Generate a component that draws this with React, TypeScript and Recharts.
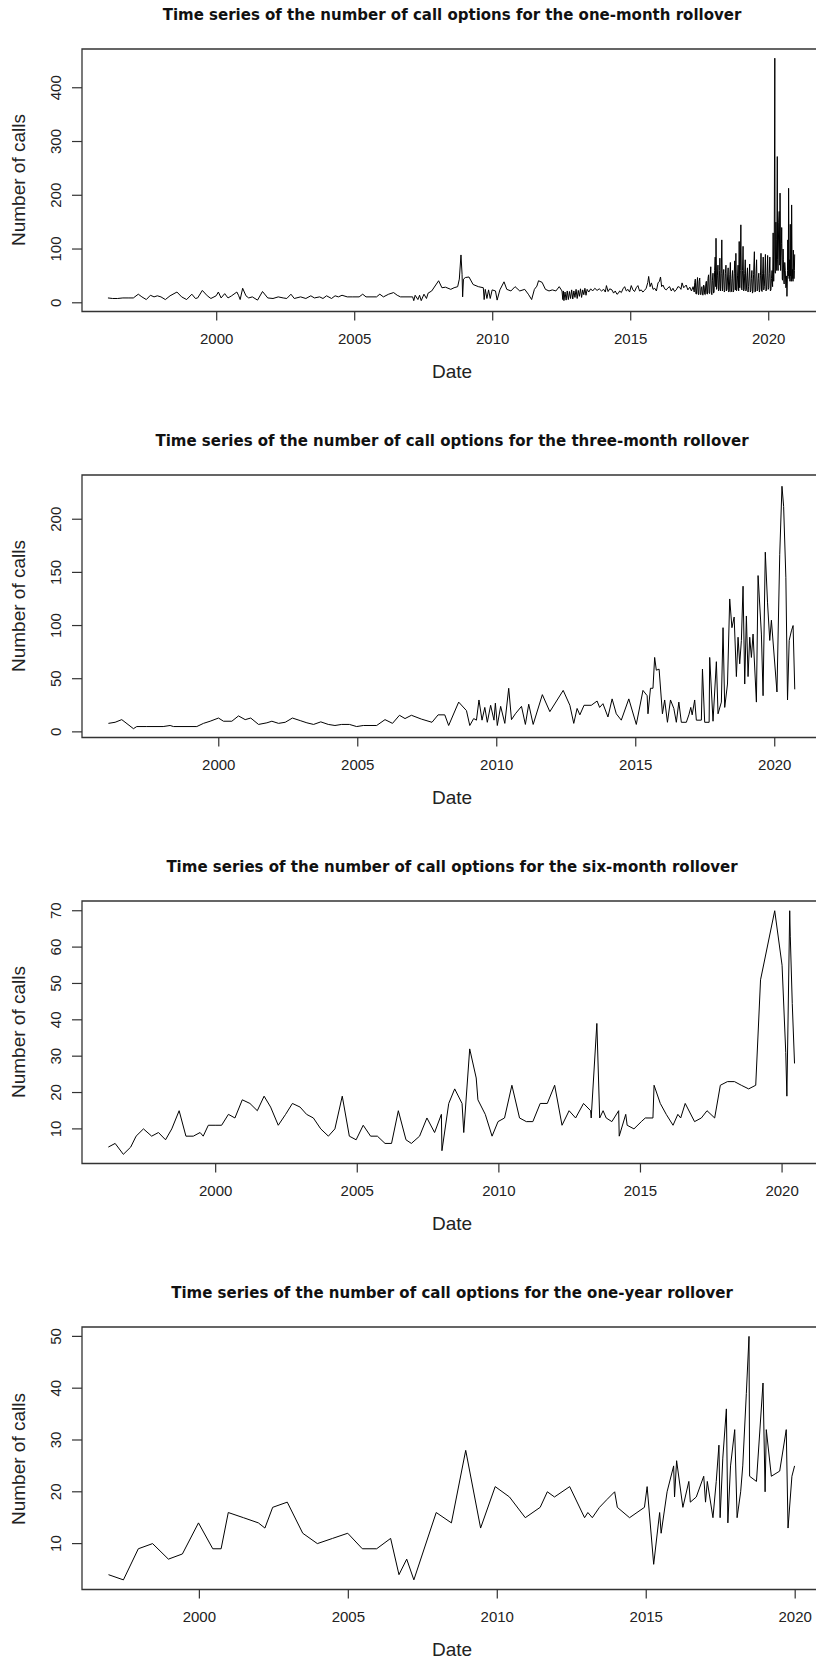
import React from "react"
import { LineChart, Line, XAxis, YAxis, ReferenceArea } from "recharts"

// decimal year, number of calls
const oneMonthCalls: [number, number][] = [
  [1996.06, 9], [1996.23, 8], [1996.41, 8], [1996.6, 9], [1996.79, 9], [1996.98, 9], [1997.16, 16], [1997.29, 11],
  [1997.45, 6], [1997.6, 14], [1997.73, 11], [1997.85, 13], [1997.98, 11], [1998.14, 6], [1998.31, 13], [1998.56, 20],
  [1998.73, 11], [1998.91, 6], [1999.1, 16], [1999.23, 8], [1999.31, 9], [1999.48, 23], [1999.66, 13], [1999.79, 8],
  [1999.98, 13], [2000.06, 20], [2000.16, 9], [2000.29, 17], [2000.41, 9], [2000.54, 13], [2000.73, 20], [2000.79, 14],
  [2000.85, 6], [2000.94, 27], [2001.06, 13], [2001.16, 9], [2001.29, 11], [2001.48, 5], [2001.66, 21], [2001.85, 9],
  [2002.04, 8], [2002.23, 11], [2002.41, 9], [2002.54, 8], [2002.69, 16], [2002.81, 8], [2003.04, 11], [2003.23, 8],
  [2003.41, 13], [2003.54, 9], [2003.73, 11], [2003.85, 8], [2003.98, 13], [2004.16, 8], [2004.29, 13], [2004.41, 11],
  [2004.54, 14], [2004.73, 11], [2004.91, 11], [2005.16, 11], [2005.29, 16], [2005.41, 11], [2005.79, 11], [2005.91, 16],
  [2006.04, 11], [2006.23, 16], [2006.41, 19], [2006.54, 14], [2006.66, 11], [2007.1, 11], [2007.14, 4], [2007.19, 14],
  [2007.29, 6], [2007.35, 14], [2007.41, 4], [2007.51, 16], [2007.6, 8], [2007.66, 18], [2007.79, 22], [2008.04, 41],
  [2008.16, 28], [2008.29, 29], [2008.48, 25], [2008.6, 28], [2008.73, 30], [2008.79, 44], [2008.85, 89], [2008.89, 53],
  [2008.91, 11], [2008.94, 44], [2009.01, 47], [2009.14, 48], [2009.29, 34], [2009.48, 30], [2009.66, 28], [2009.69, 6],
  [2009.73, 25], [2009.79, 8], [2009.85, 24], [2009.91, 8], [2009.98, 24], [2010.1, 22], [2010.16, 5], [2010.26, 24],
  [2010.41, 39], [2010.51, 25], [2010.66, 22], [2010.81, 30], [2010.98, 22], [2011.16, 25], [2011.29, 16], [2011.41, 6],
  [2011.51, 25], [2011.6, 31], [2011.66, 41], [2011.79, 38], [2011.91, 25], [2012.04, 22], [2012.16, 24], [2012.29, 22],
  [2012.41, 30], [2012.51, 22], [2012.54, 6], [2012.56, 22], [2012.58, 4], [2012.62, 20], [2012.66, 5], [2012.7, 22],
  [2012.74, 6], [2012.78, 21], [2012.82, 8], [2012.86, 24], [2012.9, 7], [2012.94, 22], [2012.98, 10], [2013.02, 25],
  [2013.06, 8], [2013.1, 23], [2013.14, 12], [2013.18, 26], [2013.22, 10], [2013.26, 24], [2013.3, 15], [2013.34, 27],
  [2013.38, 14], [2013.42, 25], [2013.48, 20], [2013.55, 26], [2013.62, 22], [2013.7, 27], [2013.78, 23], [2013.86, 26],
  [2013.94, 22], [2014.02, 25], [2014.08, 20], [2014.12, 32], [2014.18, 21], [2014.24, 26], [2014.32, 24], [2014.38, 18],
  [2014.44, 22], [2014.5, 16], [2014.54, 17], [2014.6, 22], [2014.66, 19], [2014.72, 26], [2014.78, 30], [2014.84, 22],
  [2014.9, 25], [2014.96, 20], [2015.02, 32], [2015.08, 24], [2015.14, 21], [2015.2, 28], [2015.26, 32], [2015.32, 22],
  [2015.38, 24], [2015.44, 20], [2015.5, 23], [2015.56, 27], [2015.62, 38], [2015.65, 49], [2015.7, 30], [2015.75, 37],
  [2015.81, 25], [2015.87, 27], [2015.93, 22], [2015.99, 37], [2016.04, 40], [2016.08, 48], [2016.12, 30], [2016.17, 33],
  [2016.23, 26], [2016.29, 24], [2016.35, 28], [2016.41, 30], [2016.47, 22], [2016.53, 27], [2016.59, 21], [2016.65, 24],
  [2016.71, 30], [2016.77, 29], [2016.82, 25], [2016.86, 37], [2016.92, 28], [2017.01, 33], [2017.07, 24], [2017.14, 29],
  [2017.2, 22], [2017.26, 30],
  [2017.3, 20], [2017.32, 38], [2017.34, 44], [2017.36, 17], [2017.38, 16], [2017.4, 35], [2017.42, 47], [2017.44, 18],
  [2017.46, 15], [2017.48, 40], [2017.5, 46], [2017.52, 16], [2017.54, 15], [2017.56, 28], [2017.58, 30], [2017.6, 15],
  [2017.62, 14], [2017.64, 33], [2017.66, 31], [2017.68, 16], [2017.7, 15], [2017.72, 36], [2017.74, 40], [2017.76, 17],
  [2017.78, 16], [2017.8, 45], [2017.82, 52], [2017.84, 18], [2017.86, 17], [2017.88, 48], [2017.9, 67], [2017.92, 20],
  [2017.94, 15], [2017.96, 42], [2017.98, 55], [2018.0, 18], [2018.02, 20], [2018.04, 60], [2018.06, 85], [2018.08, 30],
  [2018.09, 120], [2018.11, 25], [2018.12, 28], [2018.14, 50], [2018.16, 70], [2018.18, 22], [2018.2, 25], [2018.22, 60],
  [2018.23, 83], [2018.25, 22], [2018.26, 27], [2018.28, 55], [2018.3, 117], [2018.32, 22], [2018.33, 24], [2018.35, 50],
  [2018.37, 62], [2018.39, 20], [2018.41, 23], [2018.43, 55], [2018.45, 70], [2018.47, 22], [2018.49, 25], [2018.51, 48],
  [2018.53, 65], [2018.55, 20], [2018.57, 22], [2018.59, 52], [2018.61, 75], [2018.63, 20], [2018.65, 21], [2018.67, 45],
  [2018.69, 60], [2018.71, 20], [2018.73, 22], [2018.75, 55], [2018.77, 78], [2018.79, 24], [2018.81, 92], [2018.83, 22],
  [2018.85, 25], [2018.87, 50], [2018.89, 70], [2018.91, 22], [2018.93, 114], [2018.95, 28], [2018.97, 60], [2018.99, 145],
  [2019.01, 26], [2019.03, 24], [2019.05, 60], [2019.07, 105], [2019.09, 22], [2019.11, 25], [2019.13, 55], [2019.15, 80],
  [2019.17, 22], [2019.19, 24], [2019.21, 50], [2019.23, 65], [2019.25, 20], [2019.27, 30], [2019.29, 48], [2019.31, 72],
  [2019.33, 20], [2019.35, 22], [2019.37, 45], [2019.39, 60], [2019.41, 18], [2019.43, 21], [2019.45, 52], [2019.48, 95],
  [2019.5, 20], [2019.52, 21], [2019.54, 55], [2019.56, 80], [2019.58, 22], [2019.6, 24], [2019.62, 45], [2019.64, 55],
  [2019.66, 20], [2019.68, 25], [2019.7, 50], [2019.72, 92], [2019.74, 22], [2019.76, 21], [2019.78, 55], [2019.8, 85],
  [2019.82, 24], [2019.84, 30], [2019.86, 55], [2019.88, 90], [2019.9, 22], [2019.92, 24], [2019.94, 50], [2019.96, 88],
  [2019.98, 25], [2020.0, 28], [2020.02, 55], [2020.04, 85], [2020.06, 22], [2020.08, 24], [2020.1, 45], [2020.12, 60],
  [2020.14, 30], [2020.16, 130], [2020.18, 40], [2020.2, 100], [2020.22, 455], [2020.23, 60], [2020.24, 55], [2020.26, 150],
  [2020.27, 118], [2020.29, 60], [2020.31, 272], [2020.32, 80], [2020.34, 60], [2020.36, 150], [2020.38, 170], [2020.4, 70],
  [2020.41, 204], [2020.43, 60], [2020.44, 85], [2020.46, 110], [2020.47, 140], [2020.49, 45], [2020.5, 42], [2020.52, 100],
  [2020.53, 80], [2020.55, 38], [2020.56, 35], [2020.58, 75], [2020.6, 60], [2020.62, 28], [2020.63, 30], [2020.65, 50],
  [2020.66, 12], [2020.68, 60], [2020.69, 117], [2020.71, 50], [2020.72, 213], [2020.74, 45], [2020.75, 80], [2020.77, 40],
  [2020.78, 146], [2020.79, 50], [2020.8, 60], [2020.82, 40], [2020.83, 182], [2020.85, 45], [2020.86, 62], [2020.88, 40],
  [2020.89, 98], [2020.91, 45], [2020.92, 45], [2020.93, 60], [2020.94, 90],
]

const threeMonthCalls: [number, number][] = [
  [1996.03, 8], [1996.27, 9], [1996.51, 11.5], [1996.93, 3], [1997.05, 5], [1997.41, 5], [1998.0, 5], [1998.25, 6],
  [1998.37, 5], [1999.21, 5], [1999.45, 8], [1999.69, 10], [1999.99, 13], [2000.17, 10], [2000.47, 10], [2000.71, 15],
  [2000.95, 11.5], [2001.15, 13], [2001.43, 7], [2001.73, 8.5], [2001.91, 10], [2002.15, 8], [2002.39, 9], [2002.65, 13],
  [2002.93, 10.6], [2003.17, 8.5], [2003.41, 7], [2003.67, 9.4], [2003.94, 7], [2004.18, 6], [2004.42, 7], [2004.7, 7],
  [2004.96, 5], [2005.2, 6], [2005.68, 6], [2005.98, 11.5], [2006.25, 8], [2006.5, 15.6], [2006.7, 12.5], [2006.93, 15.6],
  [2007.29, 12], [2007.67, 9], [2007.89, 16], [2008.13, 16], [2008.27, 6], [2008.63, 28], [2008.91, 20], [2009.03, 6],
  [2009.17, 12.5], [2009.27, 11], [2009.36, 30], [2009.47, 11], [2009.57, 23], [2009.66, 9], [2009.78, 25], [2009.9, 11],
  [2009.95, 27], [2010.02, 6], [2010.14, 24], [2010.29, 8], [2010.43, 41], [2010.53, 11.5], [2010.67, 17], [2010.89, 24],
  [2011.03, 7], [2011.15, 26], [2011.31, 7], [2011.64, 35], [2011.91, 19], [2012.39, 39], [2012.63, 25], [2012.77, 8],
  [2012.89, 22], [2012.99, 16], [2013.14, 25], [2013.4, 25], [2013.61, 29], [2013.7, 23], [2013.82, 26.5], [2014.0, 14],
  [2014.15, 31], [2014.3, 17], [2014.48, 11], [2014.75, 31], [2015.02, 7], [2015.26, 39], [2015.41, 34], [2015.44, 17],
  [2015.53, 41], [2015.62, 41], [2015.68, 70], [2015.74, 58], [2015.84, 59], [2015.96, 17], [2016.04, 30], [2016.14, 9],
  [2016.25, 30], [2016.37, 22], [2016.46, 9], [2016.55, 28], [2016.64, 9], [2016.82, 9], [2016.91, 16], [2016.98, 23],
  [2017.03, 16], [2017.12, 30], [2017.18, 11], [2017.36, 11], [2017.4, 59], [2017.48, 9], [2017.64, 9], [2017.66, 70],
  [2017.78, 10], [2017.9, 66], [2017.96, 17], [2018.08, 28], [2018.14, 98], [2018.2, 23], [2018.3, 45], [2018.38, 125],
  [2018.46, 98], [2018.54, 108], [2018.62, 52], [2018.68, 89], [2018.74, 64], [2018.8, 86], [2018.86, 137], [2018.92, 45],
  [2018.98, 109], [2019.04, 52], [2019.1, 89], [2019.16, 70], [2019.22, 92], [2019.34, 28], [2019.4, 147], [2019.52, 92],
  [2019.58, 34], [2019.66, 169], [2019.74, 122], [2019.82, 86], [2019.88, 105], [2020.08, 37.5], [2020.18, 167], [2020.26, 231],
  [2020.32, 212], [2020.4, 145], [2020.46, 30], [2020.52, 86], [2020.6, 95], [2020.66, 100], [2020.72, 40],
]

const sixMonthCalls: [number, number][] = [
  [1996.21, 5], [1996.45, 6], [1996.74, 3], [1997.0, 5], [1997.19, 8], [1997.45, 10], [1997.74, 8], [1997.98, 9],
  [1998.23, 7], [1998.45, 10], [1998.71, 15], [1998.95, 8], [1999.21, 8], [1999.45, 9], [1999.56, 8], [1999.74, 11],
  [1999.98, 11], [2000.21, 11], [2000.45, 14], [2000.68, 13], [2000.94, 18], [2001.21, 17], [2001.47, 15], [2001.71, 19],
  [2001.94, 16], [2002.21, 11], [2002.47, 14], [2002.71, 17], [2002.98, 16], [2003.21, 14], [2003.45, 13], [2003.71, 10],
  [2003.98, 8], [2004.21, 10], [2004.47, 19], [2004.72, 8], [2004.96, 7], [2005.21, 11], [2005.47, 8], [2005.71, 8],
  [2005.98, 6], [2006.21, 6], [2006.45, 15], [2006.72, 7], [2006.91, 6], [2007.2, 8], [2007.46, 13], [2007.73, 9],
  [2007.97, 14], [2007.99, 4], [2008.23, 17], [2008.44, 21], [2008.7, 17], [2008.76, 9], [2008.97, 32], [2009.2, 24],
  [2009.26, 18], [2009.52, 14], [2009.76, 8], [2009.97, 12], [2010.2, 13], [2010.46, 22], [2010.73, 13], [2010.97, 12],
  [2011.2, 12], [2011.46, 17], [2011.71, 17], [2011.97, 22], [2012.23, 11], [2012.48, 15], [2012.71, 13], [2012.99, 17],
  [2013.24, 15], [2013.26, 13], [2013.46, 39], [2013.56, 13], [2013.68, 15], [2013.79, 13], [2013.99, 12], [2014.23, 15],
  [2014.25, 8], [2014.48, 14], [2014.53, 11], [2014.77, 10], [2015.03, 12], [2015.17, 13], [2015.44, 13], [2015.48, 22],
  [2015.7, 17], [2015.91, 14], [2016.15, 11], [2016.32, 14], [2016.42, 13], [2016.58, 17], [2016.91, 12], [2017.15, 13],
  [2017.35, 15], [2017.62, 13], [2017.82, 22], [2018.07, 23], [2018.32, 23], [2018.56, 22], [2018.82, 21], [2019.07, 22],
  [2019.24, 51], [2019.74, 70], [2020.0, 55], [2020.13, 31], [2020.17, 19], [2020.27, 70], [2020.29, 63], [2020.36, 44.5],
  [2020.44, 28],
]

const oneYearCalls: [number, number][] = [
  [1996.95, 4], [1997.45, 3], [1997.95, 9], [1998.43, 10], [1998.96, 7], [1999.43, 8], [1999.97, 14], [2000.45, 9],
  [2000.73, 9], [2000.97, 16], [2001.48, 15], [2001.98, 14], [2002.2, 13], [2002.46, 17], [2002.95, 18], [2003.47, 12],
  [2003.96, 10], [2004.47, 11], [2004.98, 12], [2005.47, 9], [2005.95, 9], [2006.42, 11], [2006.7, 4], [2006.96, 7],
  [2007.2, 3], [2007.95, 16], [2008.46, 14], [2008.94, 28], [2009.44, 13], [2009.93, 21], [2010.41, 19], [2010.94, 15],
  [2011.44, 17], [2011.68, 20], [2011.92, 19], [2012.43, 21], [2012.93, 15], [2013.04, 16], [2013.19, 15], [2013.43, 17],
  [2013.68, 18.5], [2013.94, 20], [2014.03, 17], [2014.44, 15], [2014.94, 17], [2015.03, 21], [2015.25, 6], [2015.45, 16],
  [2015.5, 12], [2015.7, 20], [2015.92, 25], [2015.95, 19], [2016.02, 26], [2016.23, 17], [2016.43, 22], [2016.48, 18],
  [2016.68, 19], [2016.93, 23], [2016.99, 18], [2017.05, 22], [2017.24, 15], [2017.35, 22], [2017.44, 29], [2017.48, 15],
  [2017.57, 26.5], [2017.69, 36], [2017.74, 14], [2017.83, 25], [2017.97, 32], [2018.05, 15], [2018.17, 20], [2018.24, 25],
  [2018.36, 39], [2018.45, 50], [2018.47, 23], [2018.7, 22], [2018.92, 41], [2018.99, 20], [2019.03, 32], [2019.2, 23],
  [2019.48, 24], [2019.7, 32], [2019.76, 13], [2019.89, 23], [2019.98, 25],
]

const yearTicks = [2000, 2005, 2010, 2015, 2020]
const oneMonthTicks = [0, 100, 200, 300, 400]
const threeMonthTicks = [0, 50, 100, 150, 200]
const sixMonthTicks = [10, 20, 30, 40, 50, 60, 70]
const oneYearTicks = [10, 20, 30, 40, 50]

const panels = [
  { title: "Time series of the number of call options for the one-month rollover", points: oneMonthCalls, xDomain: [1995.12, 2021.93], yDomain: [-16.2, 472.1], yTicks: oneMonthTicks, top: 49 },
  { title: "Time series of the number of call options for the three-month rollover", points: threeMonthCalls, xDomain: [1995.08, 2021.7], yDomain: [-5.3, 241.6], yTicks: threeMonthTicks, top: 475 },
  { title: "Time series of the number of call options for the six-month rollover", points: sixMonthCalls, xDomain: [1995.28, 2021.41], yDomain: [0.48, 72.68], yTicks: sixMonthTicks, top: 901 },
  { title: "Time series of the number of call options for the one-year rollover", points: oneYearCalls, xDomain: [1996.06, 2020.9], yDomain: [1.14, 51.81], yTicks: oneYearTicks, top: 1327.3 },
]

const SANS = "'Liberation Sans', Arial, sans-serif"
const PLOT_H = 262.5
const INK = "#333"

function YTick(props: any) {
  const { y, payload } = props
  return (
    <text x={55.5} y={y} transform={`rotate(-90 55.5 ${y})`} textAnchor="middle" dominantBaseline="central"
      fontSize={15} fontFamily={SANS} fill="#222">
      {payload.value}
    </text>
  )
}

function XTick(props: any) {
  const { x, y, payload } = props
  return (
    <text x={x} y={y + 16.3} textAnchor="middle" dominantBaseline="central" fontSize={15} fontFamily={SANS} fill="#222">
      {payload.value}
    </text>
  )
}

function Panel({ title, points, xDomain, yDomain, yTicks, top }: any) {
  const data = points.map(([t, v]: [number, number]) => ({ t, v }))
  return (
    <>
      <div style={{
        position: "absolute", left: 82, width: 740, top: top - 44.3, height: 20, lineHeight: "20px",
        textAlign: "center", fontFamily: "'DejaVu Sans', Verdana, sans-serif", fontWeight: "bold", fontSize: 15, color: "#111",
        whiteSpace: "nowrap",
      }}>{title}</div>
      <div style={{
        position: "absolute", left: 19.2 - 100, width: 200, top: top + PLOT_H / 2 - 12, height: 24, lineHeight: "24px",
        textAlign: "center", fontFamily: SANS, fontSize: 19, color: "#222", transform: "rotate(-90deg)",
      }}>Number of calls</div>
      <div style={{
        position: "absolute", left: 82, width: 740, top: top + PLOT_H + 60 - 12, height: 24, lineHeight: "24px",
        textAlign: "center", fontFamily: SANS, fontSize: 19, color: "#222",
      }}>Date</div>
      <div style={{ position: "absolute", left: 0, top: top - 10 }}>
        <LineChart width={832} height={PLOT_H + 50} data={data} margin={{ top: 10, right: 10, bottom: 0, left: 0 }}>
          <XAxis dataKey="t" type="number" domain={xDomain} allowDataOverflow ticks={yearTicks} interval={0}
            tickSize={9} tickLine={{ stroke: INK, strokeWidth: 1.2 }} axisLine={false} height={40} tick={<XTick />} />
          <YAxis type="number" domain={yDomain} allowDataOverflow ticks={yTicks} interval={0} width={82}
            tickSize={10} tickLine={{ stroke: INK, strokeWidth: 1.2 }} axisLine={false} tick={<YTick />} />
          <ReferenceArea x1={xDomain[0]} x2={xDomain[1]} y1={yDomain[0]} y2={yDomain[1]} fill="none" fillOpacity={0}
            stroke={INK} strokeWidth={1.3} ifOverflow="visible" />
          <Line type="linear" dataKey="v" stroke="#000" strokeWidth={1} dot={false} activeDot={false} isAnimationActive={false} />
        </LineChart>
      </div>
    </>
  )
}

export default function App() {
  return (
    <div style={{ position: "fixed", left: 0, top: 0, width: 816, height: 1662, overflow: "hidden", background: "#fff" }}>
      {panels.map((p) => <Panel key={p.title} {...p} />)}
    </div>
  )
}
